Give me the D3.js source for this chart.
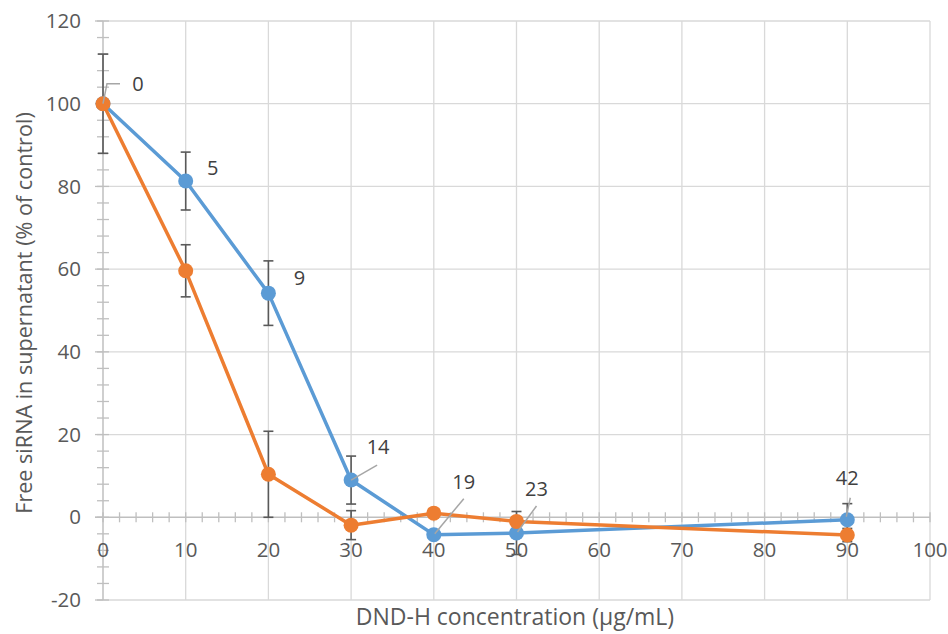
<!DOCTYPE html>
<html>
<head>
<meta charset="utf-8">
<script src="https://cdn.jsdelivr.net/npm/d3@7"></script>
<style>
  html, body { margin: 0; padding: 0; background: #fff; }
  svg { display: block; font-family: "Open Sans", sans-serif; }
</style>
</head>
<body>
<svg id="chart" width="948" height="634"></svg>
<script>
// ---- Data ----
const concentrations = [0, 10, 20, 30, 40, 50, 90];
const blueValues   = [100, 81.3, 54.2, 9.0, -4.2, -3.8, -0.6];
const blueErrors   = [12, 7, 7.8, 5.8, 0, 5.2, 3.9];
const orangeValues = [100, 59.6, 10.4, -1.9, 1.0, -1.0, -4.3];
const orangeErrors = [0, 6.3, 10.4, 3.5, 0, 0, 1.6];
const pointLabels  = ["0", "5", "9", "14", "19", "23", "42"];
const xTicks = [0, 10, 20, 30, 40, 50, 60, 70, 80, 90, 100];
const yTicks = [-20, 0, 20, 40, 60, 80, 100, 120];
const xTitle = "DND-H concentration (µg/mL)";
const yTitle = "Free siRNA in supernatant (% of control)";

// ---- Layout / style ----
const svg = d3.select("#chart");
const x = d3.scaleLinear().domain([0, 100]).range([103, 930]);
const y = d3.scaleLinear().domain([-20, 120]).range([600, 21]);
const gridColor = "#d9d9d9", axisColor = "#bfbfbf", textColor = "#595959";
const blue = "#5b9bd5", orange = "#ed7d31", errColor = "#595959";

// gridlines
svg.append("g").selectAll("line").data(yTicks.filter(d => d !== 0)).join("line")
  .attr("x1", x(0)).attr("x2", x(100)).attr("y1", d => y(d)).attr("y2", d => y(d))
  .attr("stroke", gridColor).attr("stroke-width", 1.3);
svg.append("g").selectAll("line").data(xTicks.filter(d => d !== 0)).join("line")
  .attr("x1", d => x(d)).attr("x2", d => x(d)).attr("y1", y(120)).attr("y2", y(-20))
  .attr("stroke", gridColor).attr("stroke-width", 1.3);

// y axis (vertical at x=0) with minor ticks
const yMinor = d3.range(-20, 120.01, 4);
svg.append("g").selectAll("line").data(yMinor).join("line")
  .attr("x1", x(0) - 6).attr("x2", x(0) + 6).attr("y1", d => y(d)).attr("y2", d => y(d))
  .attr("stroke", axisColor).attr("stroke-width", 1.3);
svg.append("g").selectAll("line").data(yTicks).join("line")
  .attr("x1", x(0) - 8).attr("x2", x(0)).attr("y1", d => y(d)).attr("y2", d => y(d))
  .attr("stroke", axisColor).attr("stroke-width", 1.3);
svg.append("line").attr("x1", x(0)).attr("x2", x(0)).attr("y1", y(120)).attr("y2", y(-20))
  .attr("stroke", axisColor).attr("stroke-width", 1.5);

// x axis (horizontal at y=0) with minor ticks
const xMinor = d3.range(0, 100.01, 2);
svg.append("g").selectAll("line").data(xMinor).join("line")
  .attr("x1", d => x(d)).attr("x2", d => x(d)).attr("y1", y(0) - 5).attr("y2", y(0) + 5)
  .attr("stroke", axisColor).attr("stroke-width", 1.3);
svg.append("line").attr("x1", x(0) - 8).attr("x2", x(100)).attr("y1", y(0)).attr("y2", y(0))
  .attr("stroke", axisColor).attr("stroke-width", 1.5);

// tick labels
svg.append("g").selectAll("text").data(yTicks).join("text")
  .attr("x", 81).attr("y", d => y(d)).attr("dy", "0.35em")
  .attr("text-anchor", "end").attr("font-size", 20.5).attr("fill", textColor)
  .text(d => d);
svg.append("g").selectAll("text").data(xTicks).join("text")
  .attr("x", d => x(d)).attr("y", 557)
  .attr("text-anchor", "middle").attr("font-size", 20.5).attr("fill", textColor)
  .text(d => d);

// axis titles
svg.append("text").attr("x", 515).attr("y", 625).attr("text-anchor", "middle")
  .attr("font-size", 23).attr("fill", textColor).text(xTitle);
svg.append("text").attr("transform", "translate(32,313) rotate(-90)")
  .attr("text-anchor", "middle").attr("font-size", 21.6).attr("fill", textColor).text(yTitle);

// series
const series = [
  { color: blue, values: blueValues, errors: blueErrors },
  { color: orange, values: orangeValues, errors: orangeErrors }
];
const line = d3.line().x(d => x(d[0])).y(d => y(d[1]));

// error bars
series.forEach(s => {
  const pts = concentrations.map((c, i) => ({ c, v: s.values[i], e: s.errors[i] })).filter(p => p.e > 0);
  const g = svg.append("g").attr("stroke", errColor).attr("stroke-width", 1.6);
  g.selectAll("line.v").data(pts).join("line")
    .attr("x1", p => x(p.c)).attr("x2", p => x(p.c))
    .attr("y1", p => y(p.v + p.e)).attr("y2", p => y(p.v - p.e));
  g.selectAll("line.t").data(pts).join("line")
    .attr("x1", p => x(p.c) - 5).attr("x2", p => x(p.c) + 5)
    .attr("y1", p => y(p.v + p.e)).attr("y2", p => y(p.v + p.e));
  g.selectAll("line.b").data(pts).join("line")
    .attr("x1", p => x(p.c) - 5).attr("x2", p => x(p.c) + 5)
    .attr("y1", p => y(p.v - p.e)).attr("y2", p => y(p.v - p.e));
});

series.forEach(s => {
  const pts = concentrations.map((c, i) => [c, s.values[i]]);
  svg.append("path").datum(pts).attr("d", line)
    .attr("fill", "none").attr("stroke", s.color).attr("stroke-width", 3.5)
    .attr("stroke-linejoin", "round");
  svg.append("g").selectAll("circle").data(pts).join("circle")
    .attr("cx", d => x(d[0])).attr("cy", d => y(d[1])).attr("r", 7.5)
    .attr("fill", s.color);
});

// data labels for blue series (offsets are styling)
const labelOffsets = [
  { dx: 35, dy: -20, leader: [[0, 0], [4, -20], [17, -20]] },
  { dx: 27, dy: -13, leader: null },
  { dx: 31, dy: -15, leader: null },
  { dx: 27, dy: -33, leader: [[0, 0], [26, -15]] },
  { dx: 30, dy: -53, leader: [[1, -1], [30, -36]] },
  { dx: 20, dy: -44, leader: [[1, -1], [20, -27]] },
  { dx: 0, dy: -42, leader: [[-1, -3], [3, -22]] }
];
const lg = svg.append("g");
concentrations.forEach((c, i) => {
  const px = x(c), py = y(blueValues[i]);
  const o = labelOffsets[i];
  if (o.leader) {
    lg.append("polyline")
      .attr("points", o.leader.map(p => [px + p[0], py + p[1]].join(",")).join(" "))
      .attr("fill", "none").attr("stroke", "#a6a6a6").attr("stroke-width", 1.5);
  }
  lg.append("text").attr("x", px + o.dx).attr("y", py + o.dy).attr("dy", "0.35em")
    .attr("text-anchor", "middle").attr("font-size", 20).attr("fill", "#404040")
    .text(pointLabels[i]);
});
</script>
</body>
</html>
